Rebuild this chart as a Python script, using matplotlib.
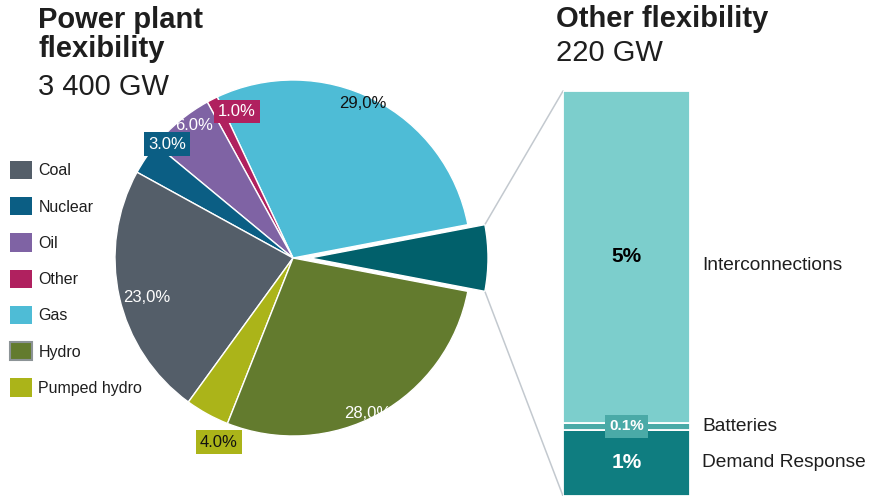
import matplotlib
matplotlib.use("Agg")
import matplotlib.pyplot as plt
import matplotlib.transforms as mtransforms
from matplotlib.patches import Patch, ConnectionPatch
import numpy as np

plt.rcParams['font.family'] = ['Liberation Sans', 'DejaVu Sans']

# ---------------- data ----------------
pie_categories = ["Other flexibility", "Gas", "Other", "Oil", "Nuclear", "Coal", "Pumped hydro", "Hydro"]
pie_values = [6.0, 29.0, 1.0, 6.0, 3.0, 23.0, 4.0, 28.0]
pie_value_labels = ["", "29,0%", "1.0%", "6.0%", "3.0%", "23,0%", "4.0%", "28,0%"]

legend_categories = ["Coal", "Nuclear", "Oil", "Other", "Gas", "Hydro", "Pumped hydro"]

bar_categories = ["Demand Response", "Batteries", "Interconnections"]
bar_values = [1.0, 0.1, 5.0]
bar_value_labels = ["1%", "0.1%", "5%"]

left_title = ["Power plant", "flexibility"]
left_subtitle = "3 400 GW"
right_title = "Other flexibility"
right_subtitle = "220 GW"

# ---------------- style ----------------
W, H = 871, 496
colors = {
    "Other flexibility": "#01606B",
    "Gas": "#4EBCD6",
    "Other": "#B0215F",
    "Oil": "#7F63A4",
    "Nuclear": "#0B5E84",
    "Coal": "#545E69",
    "Pumped hydro": "#ABB419",
    "Hydro": "#637B2E",
}
bar_colors = {"Demand Response": "#0F7D80", "Batteries": "#4AAAA7", "Interconnections": "#7CCECC"}
text_dark = "#1E1E1E"

# label placement: (angle offset from wedge middle in deg, radius fraction, text colour, box?)
label_style = {
    "Gas": (2.7, 0.955, "#111111", False),
    "Other": (-6.1, 0.88, "white", True),
    "Oil": (-2.9, 0.93, "white", False),
    "Nuclear": (-7.9, 0.955, "white", True),
    "Coal": (2.7, 0.85, "white", False),
    "Pumped hydro": (6.9, 1.115, "#111111", True),
    "Hydro": (-3.1, 0.97, "white", False),
}

fig = plt.figure(figsize=(W / 100, H / 100), dpi=100)

# ---------------- pie ----------------
ax = fig.add_axes([0, 0, 1, 1])
R = 178
center = (293, H - 258)
explode = [17] + [0] * (len(pie_values) - 1)
start = -pie_values[0] / sum(pie_values) * 180
wedges, _ = ax.pie(pie_values, colors=[colors[c] for c in pie_categories],
                   startangle=start, counterclock=True, radius=R, center=center,
                   explode=explode, frame=False,
                   wedgeprops=dict(edgecolor="white", linewidth=1.0))
ax.set_xlim(0, W)
ax.set_ylim(0, H)
ax.set_aspect("equal")
ax.axis("off")

order = ["Gas", "Other", "Oil", "Coal", "Hydro", "Nuclear", "Pumped hydro"]
for name in order:
    i = pie_categories.index(name)
    w = wedges[i]
    dang, rf, tc, boxed = label_style[name]
    mid = np.deg2rad((w.theta1 + w.theta2) / 2 + dang)
    x = w.center[0] + rf * R * np.cos(mid)
    y = w.center[1] + rf * R * np.sin(mid)
    kw = {}
    if boxed:
        kw["bbox"] = dict(boxstyle="square,pad=0.25", facecolor=colors[name], edgecolor="none")
    ax.text(x, y, pie_value_labels[i], ha="center", va="center", fontsize=12,
            color=tc, zorder=5, **kw)

# ---------------- stacked bar ----------------
bax = fig.add_axes([563 / W, 0, 127 / W, (H - 91) / H])
bottoms = np.concatenate([[0], np.cumsum(bar_values)[:-1]])
bax.bar(0, bar_values, bottom=bottoms, width=1.0,
        color=[bar_colors[c] for c in bar_categories], edgecolor="white", linewidth=1.3)
bax.set_xlim(-0.5, 0.5)
bax.set_ylim(0, sum(bar_values))
bax.axis("off")

blend = mtransforms.blended_transform_factory(bax.transAxes, bax.transData)
value_style = {
    "Demand Response": dict(color="white", fontsize=15),
    "Batteries": dict(color="white", fontsize=11,
                      bbox=dict(boxstyle="square,pad=0.3", facecolor=bar_colors["Batteries"], edgecolor="none")),
    "Interconnections": dict(color="black", fontsize=15),
}
name_offset = {"Demand Response": 0.0, "Batteries": -0.01, "Interconnections": -0.13}
for name, v, b, lab in zip(bar_categories, bar_values, bottoms, bar_value_labels):
    ymid = b + v / 2
    bax.text(0, ymid, lab, ha="center", va="center", fontweight="bold", zorder=5,
             **value_style[name])
    bax.text(1.094, ymid + name_offset[name], name, transform=blend, ha="left", va="center",
             fontsize=13.8, color=text_dark, clip_on=False)

# ---------------- connector lines ----------------
w0 = wedges[0]
cx, cy = w0.center
for ang, corner in ((w0.theta2, (0, 1)), (w0.theta1, (0, 0))):
    a = np.deg2rad(ang)
    p = (cx + R * np.cos(a), cy + R * np.sin(a))
    con = ConnectionPatch(xyA=p, coordsA=ax.transData, xyB=corner, coordsB=bax.transAxes,
                          color="#C3C9CF", linewidth=1.1, zorder=0)
    fig.add_artist(con)

# ---------------- legend ----------------
handles = []
for c in legend_categories:
    if c == "Hydro":
        handles.append(Patch(facecolor=colors[c], edgecolor="#8C9396", linewidth=1.5))
    else:
        handles.append(Patch(facecolor=colors[c], edgecolor="none"))
fig.legend(handles, legend_categories, loc="upper left", bbox_to_anchor=(10 / W, 1 - 161 / H),
           frameon=False, fontsize=11.5, handlelength=1.375, handleheight=1.375,
           handletextpad=0.4, labelspacing=1.13, borderpad=0, borderaxespad=0,
           labelcolor=text_dark)

# ---------------- titles ----------------
def ftext(xp, yp_base, s, **kw):
    fig.text(xp / W, 1 - yp_base / H, s, ha="left", va="baseline", color=text_dark, **kw)

ftext(38, 28, left_title[0], fontsize=21, fontweight="bold")
ftext(38, 57, left_title[1], fontsize=21, fontweight="bold")
ftext(38, 95, left_subtitle, fontsize=21)
ftext(556, 27, right_title, fontsize=21, fontweight="bold")
ftext(556, 61, right_subtitle, fontsize=21)

fig.savefig("out.png", dpi=100)
